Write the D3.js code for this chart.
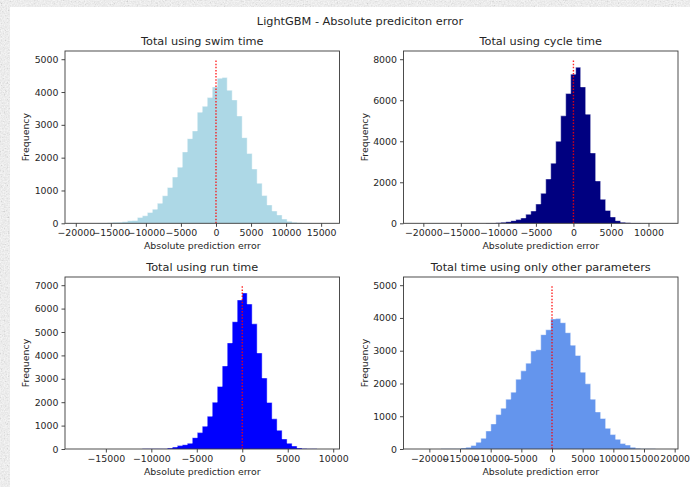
<!DOCTYPE html>
<html>
<head>
<meta charset="utf-8">
<script src="https://cdn.jsdelivr.net/npm/d3@7"></script>
<style>
  html, body { margin: 0; padding: 0; background: #fff; }
  svg { display: block; }
  text { font-family: "DejaVu Sans", sans-serif; fill: #262626; }
</style>
</head>
<body>
<svg id="fig" width="690" height="487"></svg>
<script>
// Histogram counts per panel (50 equal-width bins spanning [binMin, binMax])
const swimCounts = [1, 2, 3, 5, 8, 12, 20, 30, 35, 45, 80, 85, 180, 230, 330, 430, 610, 840, 1090, 1410,
  1710, 2175, 2580, 2815, 3385, 3565, 3830, 4155, 4420, 4440, 4055, 3760, 3270, 2610, 2125, 1655, 1220, 845, 560, 375,
  255, 130, 60, 30, 20, 12, 8, 5, 3, 1];
const cycleCounts = [1, 0, 0, 1, 0, 1, 1, 2, 2, 3, 4, 5, 6, 8, 10, 15, 30, 50, 80, 130,
  180, 260, 440, 600, 940, 1460, 2160, 2930, 4000, 5240, 6325, 7270, 7610, 6650, 5320, 3430, 2065, 1170, 630, 310,
  130, 50, 25, 15, 10, 6, 4, 2, 1, 1];
const runCounts = [1, 0, 0, 1, 1, 1, 2, 2, 3, 3, 4, 4, 5, 6, 7, 8, 10, 15, 40, 85,
  145, 185, 245, 485, 700, 975, 1400, 2000, 2675, 3550, 4535, 5440, 6370, 6670, 6195, 5350, 4105, 3035, 1990, 1290,
  800, 430, 245, 130, 45, 25, 15, 8, 4, 2];
const otherCounts = [1, 1, 2, 2, 3, 4, 5, 6, 10, 30, 50, 110, 205, 325, 550, 765, 1050, 1245, 1520, 1735,
  2130, 2385, 2620, 2990, 3030, 3490, 3640, 3970, 3980, 3855, 3550, 3170, 2855, 2345, 1990, 1520, 1130, 930, 630, 440,
  295, 165, 120, 50, 20, 10, 8, 4, 2, 1];

// Range of the errors covered by the bins
const binMin = [-19760, -20980, -18120, -22180];
const binMax = [15840, 12270, 9320, 18510];

// Height of the dotted zero-error marker
const markerTop = [5000, 8000, 7000, 5000];

const titles = ["Total using swim time", "Total using cycle time", "Total using run time",
  "Total time using only other parameters"];
const colors = ["lightblue", "navy", "blue", "cornflowerblue"];

const xTicks = [
  [-20000, -15000, -10000, -5000, 0, 5000, 10000, 15000],
  [-20000, -15000, -10000, -5000, 0, 5000, 10000],
  [-15000, -10000, -5000, 0, 5000, 10000],
  [-20000, -15000, -10000, -5000, 0, 5000, 10000, 15000, 20000]
];
const yTicks = [
  [0, 1000, 2000, 3000, 4000, 5000],
  [0, 2000, 4000, 6000, 8000],
  [0, 1000, 2000, 3000, 4000, 5000, 6000, 7000],
  [0, 1000, 2000, 3000, 4000, 5000]
];

const suptitle = "LightGBM - Absolute prediciton error";
const xLabel = "Absolute prediction error";
const yLabel = "Frequency";

const allCounts = [swimCounts, cycleCounts, runCounts, otherCounts];

const svg = d3.select("#fig");

// Paper-like speckled backdrop behind the white figure
const defs = svg.append("defs");
const f = defs.append("filter").attr("id", "speckle").attr("x", 0).attr("y", 0)
  .attr("width", "100%").attr("height", "100%");
f.append("feTurbulence").attr("type", "fractalNoise").attr("baseFrequency", 0.7)
  .attr("numOctaves", 2).attr("seed", 7).attr("result", "n");
f.append("feColorMatrix").attr("type", "matrix")
  .attr("values", "0.33 0.33 0.33 0 0  0.33 0.33 0.33 0 0  0.33 0.33 0.33 0 0  0 0 0 0 1");
f.append("feComponentTransfer")
  .call(g => {
    ["feFuncR", "feFuncG", "feFuncB"].forEach(fn =>
      g.append(fn).attr("type", "table").attr("tableValues", "0.35 0.55 0.78 0.9 0.95 0.97"));
  });

svg.append("rect").attr("width", 690).attr("height", 487).attr("fill", "#ddd")
  .attr("filter", "url(#speckle)");
svg.append("rect").attr("x", 10).attr("y", 7).attr("width", 680).attr("height", 480).attr("fill", "#fff");

svg.append("text").attr("x", 360).attr("y", 24.5).attr("text-anchor", "middle")
  .style("font-size", "11.3px").text(suptitle);

const cols = [[65, 339.5], [403.5, 678]];
const rows = [[51, 223.3], [277, 449]];

allCounts.forEach((counts, i) => {
  const [x0, x1] = cols[i % 2];
  const [y0, y1] = rows[Math.floor(i / 2)];
  const lo = binMin[i], hi = binMax[i];
  const pad = (hi - lo) * 0.05;
  const x = d3.scaleLinear().domain([lo - pad, hi + pad]).range([x0, x1]);
  const y = d3.scaleLinear().domain([0, markerTop[i] * 1.05]).range([y1, y0]);
  const w = (hi - lo) / counts.length;
  const bins = counts.map((c, k) => ({ a: lo + k * w, b: lo + (k + 1) * w, c }));

  const g = svg.append("g");

  // histogram drawn as one stepped, filled outline (no seams between bins)
  const pts = [];
  bins.forEach(d => { pts.push([d.a, d.c]); pts.push([d.b, d.c]); });
  const area = d3.area().x(p => x(p[0])).y0(y(0)).y1(p => y(p[1]));
  g.append("path").attr("d", area(pts)).attr("fill", colors[i]);

  // light contour along the top of the histogram
  g.append("path").attr("d", d3.line().x(p => x(p[0])).y(p => y(p[1]))(pts))
    .attr("fill", "none").attr("stroke", "#fff").attr("stroke-opacity", 0.45).attr("stroke-width", 1);

  // zero-error marker
  g.append("line").attr("x1", x(0)).attr("x2", x(0)).attr("y1", y(0)).attr("y2", y(markerTop[i]))
    .attr("stroke", "red").attr("stroke-width", 1.4).attr("stroke-dasharray", "1.5,1.6").attr("opacity", 0.85);

  const fmt = v => (v < 0 ? "\u2212" : "") + Math.abs(v);

  const xa = g.append("g").attr("transform", `translate(0,${y1})`)
    .call(d3.axisBottom(x).tickValues(xTicks[i]).tickFormat(fmt).tickSize(3.5).tickPadding(2.5));
  const ya = g.append("g").attr("transform", `translate(${x0},0)`)
    .call(d3.axisLeft(y).tickValues(yTicks[i]).tickFormat(fmt).tickSize(3.5).tickPadding(3));
  [xa, ya].forEach(a => {
    a.select(".domain").remove();
    a.selectAll(".tick line").attr("stroke", "#333").attr("stroke-width", 0.9);
    a.selectAll(".tick text").style("font-size", "9.4px").attr("fill", "#262626")
      .style("font-family", "DejaVu Sans, sans-serif");
  });

  g.append("rect").attr("x", x0).attr("y", y0).attr("width", x1 - x0).attr("height", y1 - y0)
    .attr("fill", "none").attr("stroke", "#3a3a3a").attr("stroke-width", 0.9);

  g.append("text").attr("x", (x0 + x1) / 2).attr("y", y0 - 6).attr("text-anchor", "middle")
    .style("font-size", "11.3px").text(titles[i]);
  g.append("text").attr("x", (x0 + x1) / 2).attr("y", y1 + 26).attr("text-anchor", "middle")
    .style("font-size", "9.4px").text(xLabel);
  g.append("text").attr("transform", `translate(${x0 - 36},${(y0 + y1) / 2}) rotate(-90)`)
    .attr("text-anchor", "middle").style("font-size", "9.4px").text(yLabel);
});
</script>
</body>
</html>
